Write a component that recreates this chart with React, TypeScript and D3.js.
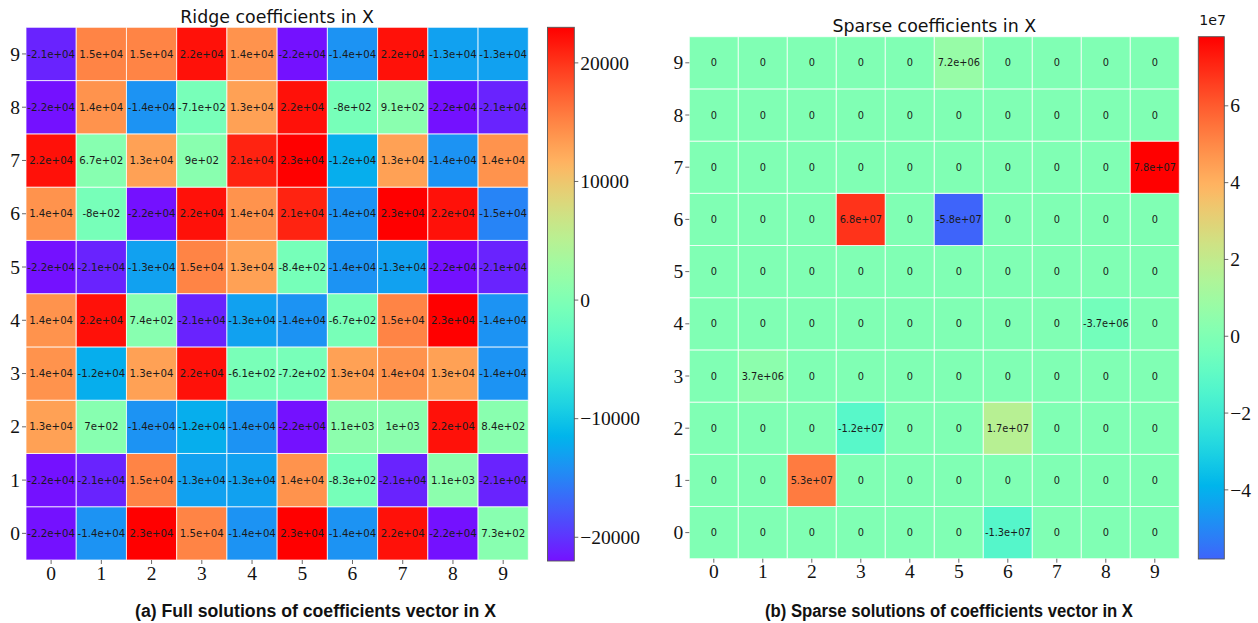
import React from "react";
import * as d3 from "d3";

// Coefficient grids, row index 0..9 (row 0 drawn at the bottom), columns 0..9.
const ridgeRow0 = [-22000, -14000, 23000, 15000, -14000, 23000, -14000, 22000, -22000, 730];
const ridgeRow1 = [-22000, -21000, 15000, -13000, -13000, 14000, -830, -21000, 1100, -21000];
const ridgeRow2 = [13000, 700, -14000, -12000, -14000, -22000, 1100, 1000, 22000, 840];
const ridgeRow3 = [14000, -12000, 13000, 22000, -610, -720, 13000, 14000, 13000, -14000];
const ridgeRow4 = [14000, 22000, 740, -21000, -13000, -14000, -670, 15000, 23000, -14000];
const ridgeRow5 = [-22000, -21000, -13000, 15000, 13000, -840, -14000, -13000, -22000, -21000];
const ridgeRow6 = [14000, -800, -22000, 22000, 14000, 21000, -14000, 23000, 22000, -15000];
const ridgeRow7 = [22000, 670, 13000, 900, 21000, 23000, -12000, 13000, -14000, 14000];
const ridgeRow8 = [-22000, 14000, -14000, -710, 13000, 22000, -800, 910, -22000, -21000];
const ridgeRow9 = [-21000, 15000, 15000, 22000, 14000, -22000, -14000, 22000, -13000, -13000];

const sparseRow0 = [0, 0, 0, 0, 0, 0, -1.3e7, 0, 0, 0];
const sparseRow1 = [0, 0, 5.3e7, 0, 0, 0, 0, 0, 0, 0];
const sparseRow2 = [0, 0, 0, -1.2e7, 0, 0, 1.7e7, 0, 0, 0];
const sparseRow3 = [0, 3.7e6, 0, 0, 0, 0, 0, 0, 0, 0];
const sparseRow4 = [0, 0, 0, 0, 0, 0, 0, 0, -3.7e6, 0];
const sparseRow5 = [0, 0, 0, 0, 0, 0, 0, 0, 0, 0];
const sparseRow6 = [0, 0, 0, 6.8e7, 0, -5.8e7, 0, 0, 0, 0];
const sparseRow7 = [0, 0, 0, 0, 0, 0, 0, 0, 0, 7.8e7];
const sparseRow8 = [0, 0, 0, 0, 0, 0, 0, 0, 0, 0];
const sparseRow9 = [0, 0, 0, 0, 0, 7.2e6, 0, 0, 0, 0];

const ridgeRows = [ridgeRow0, ridgeRow1, ridgeRow2, ridgeRow3, ridgeRow4, ridgeRow5, ridgeRow6, ridgeRow7, ridgeRow8, ridgeRow9];
const sparseRows = [sparseRow0, sparseRow1, sparseRow2, sparseRow3, sparseRow4, sparseRow5, sparseRow6, sparseRow7, sparseRow8, sparseRow9];

const axisLabels = ["0", "1", "2", "3", "4", "5", "6", "7", "8", "9"];
const ridgeBarTicks = [-20000, -10000, 0, 10000, 20000];
const sparseBarTicks = [-4e7, -2e7, 0, 2e7, 4e7, 6e7];

const W = 1258;
const H = 623;
const SERIF = "'Liberation Serif', 'Times New Roman', serif";
const SANS = "'DejaVu Sans', sans-serif";

// matplotlib "rainbow" colormap
function rainbow(t: number) {
  const x = Math.max(0, Math.min(1, t));
  const r = Math.min(1, Math.abs(2 * x - 0.5));
  const g = Math.sin(Math.PI * x);
  const b = Math.cos((Math.PI * x) / 2);
  return d3.rgb(r * 255, g * 255, b * 255).formatHex();
}

// Python-like "%.2g"
function fmt2g(v: number) {
  if (v === 0) return "0";
  const [m0, e0] = v.toExponential(1).split("e");
  const exp = parseInt(e0, 10);
  if (exp < -4 || exp >= 2) {
    const m = m0.replace(/\.0$/, "");
    return `${m}e${exp < 0 ? "-" : "+"}${String(Math.abs(exp)).padStart(2, "0")}`;
  }
  return String(Number(v.toPrecision(2)));
}

const minus = (s: string) => s.replace("-", "\u2212");

type PanelProps = {
  id: string;
  rows: number[][];
  x0: number;
  x1: number;
  y0: number;
  y1: number;
  title: string;
  titleBaseline: number;
  annotSize: number;
  barX: number;
  barW: number;
  barY0: number;
  barY1: number;
  barTicks: number[];
  barScaleDiv: number;
  offsetText?: string;
  caption: string;
  captionX: number;
  captionLen: number;
};

function Panel(p: PanelProps) {
  const flat = p.rows.flat();
  const vmin = d3.min(flat) as number;
  const vmax = d3.max(flat) as number;
  const vrange = Math.max(Math.abs(vmin), Math.abs(vmax));
  const color = (v: number) => rainbow(0.5 + v / (2 * vrange));

  const x = d3.scaleBand<string>().domain(axisLabels).range([p.x0, p.x1]);
  const y = d3.scaleBand<string>().domain([...axisLabels].reverse()).range([p.y0, p.y1]);
  const yBar = d3.scaleLinear().domain([vmin, vmax]).range([p.barY1, p.barY0]);

  const cells: { r: number; c: number; v: number }[] = [];
  p.rows.forEach((row, r) => row.forEach((v, c) => cells.push({ r, c, v })));

  const stops = d3.range(0, 65).map((i) => {
    const f = i / 64;
    const v = vmin + f * (vmax - vmin);
    return { off: f, col: color(v) };
  });

  const cx = (p.x0 + p.x1) / 2;
  const tickCol = "#444";

  return (
    <g>
      <defs>
        <linearGradient id={`grad-${p.id}`} x1="0" y1="1" x2="0" y2="0">
          {stops.map((s, i) => (
            <stop key={i} offset={s.off} stopColor={s.col} />
          ))}
        </linearGradient>
      </defs>

      <text x={cx} y={p.titleBaseline} textAnchor="middle" fontFamily={SANS} fontSize={17.4} fill="#111">
        {p.title}
      </text>

      {cells.map((d) => (
        <rect
          key={`${d.r}-${d.c}`}
          x={x(axisLabels[d.c])}
          y={y(axisLabels[d.r])}
          width={x.bandwidth()}
          height={y.bandwidth()}
          fill={color(d.v)}
          stroke="#ffffff"
          strokeOpacity={0.75}
          strokeWidth={1}
        />
      ))}
      {cells.map((d) => (
        <text
          key={`t-${d.r}-${d.c}`}
          x={(x(axisLabels[d.c]) as number) + x.bandwidth() / 2}
          y={(y(axisLabels[d.r]) as number) + y.bandwidth() / 2}
          dy="0.36em"
          textAnchor="middle"
          fontFamily={SANS}
          fontSize={p.annotSize}
          fill="#1a1a1a"
        >
          {fmt2g(d.v)}
        </text>
      ))}

      {/* y axis */}
      {axisLabels.map((l) => {
        const yy = (y(l) as number) + y.bandwidth() / 2;
        return (
          <g key={`y-${l}`}>
            <line x1={p.x0 - 4} x2={p.x0} y1={yy} y2={yy} stroke={tickCol} strokeWidth={0.8} />
            <text x={p.x0 - 6} y={yy} dy="0.34em" textAnchor="end" fontFamily={SERIF} fontSize={19.5} fill="#111">
              {l}
            </text>
          </g>
        );
      })}
      {/* x axis */}
      {axisLabels.map((l) => {
        const xx = (x(l) as number) + x.bandwidth() / 2;
        return (
          <g key={`x-${l}`}>
            <line x1={xx} x2={xx} y1={p.y1} y2={p.y1 + 4} stroke={tickCol} strokeWidth={0.8} />
            <text x={xx} y={p.y1 + 19.5} textAnchor="middle" fontFamily={SERIF} fontSize={19.5} fill="#111">
              {l}
            </text>
          </g>
        );
      })}

      {/* colorbar */}
      <rect x={p.barX} y={p.barY0} width={p.barW} height={p.barY1 - p.barY0} fill={`url(#grad-${p.id})`} stroke="#555" strokeWidth={0.9} />
      {p.barTicks.map((t) => {
        const yy = yBar(t);
        return (
          <g key={`b-${t}`}>
            <line x1={p.barX + p.barW} x2={p.barX + p.barW + 4} y1={yy} y2={yy} stroke={tickCol} strokeWidth={0.8} />
            <text x={p.barX + p.barW + 6} y={yy} dy="0.34em" fontFamily={SERIF} fontSize={19.5} fill="#111">
              {minus(String(t / p.barScaleDiv))}
            </text>
          </g>
        );
      })}
      {p.offsetText && (
        <text x={p.barX + 1} y={p.barY0 - 11.5} fontFamily={SANS} fontSize={14.2} fill="#111">
          {p.offsetText}
        </text>
      )}

      <text
        x={p.captionX}
        y={616.7}
        fontFamily="'Liberation Sans Narrow', 'Liberation Sans', Arial, sans-serif"
        fontWeight="bold"
        fontSize={17.6}
        textLength={p.captionLen}
        lengthAdjust="spacingAndGlyphs"
        fill="#111"
      >
        {p.caption}
      </text>
    </g>
  );
}

export default function App() {
  return (
    <svg
      width={W}
      height={H}
      viewBox={`0 0 ${W} ${H}`}
      style={{ position: "absolute", left: 0, top: 0, display: "block", background: "#ffffff" }}
    >
      <rect x={0} y={0} width={W} height={H} fill="#ffffff" />
      <Panel
        id="ridge"
        rows={ridgeRows}
        x0={26}
        x1={528.3}
        y0={27.3}
        y1={560}
        title="Ridge coefficients in X"
        titleBaseline={22.7}
        annotSize={10.2}
        barX={547.5}
        barW={26.8}
        barY0={27.3}
        barY1={561}
        barTicks={ridgeBarTicks}
        barScaleDiv={1}
        caption="(a) Full solutions of coefficients vector in X"
        captionX={135}
        captionLen={361}
      />
      <Panel
        id="sparse"
        rows={sparseRows}
        x0={689.3}
        x1={1179.3}
        y0={36.7}
        y1={558.7}
        title="Sparse coefficients in X"
        titleBaseline={32.1}
        annotSize={9.8}
        barX={1198.3}
        barW={26}
        barY0={36.7}
        barY1={559}
        barTicks={sparseBarTicks}
        barScaleDiv={1e7}
        offsetText="1e7"
        caption="(b) Sparse solutions of coefficients vector in X"
        captionX={765}
        captionLen={368}
      />
    </svg>
  );
}
